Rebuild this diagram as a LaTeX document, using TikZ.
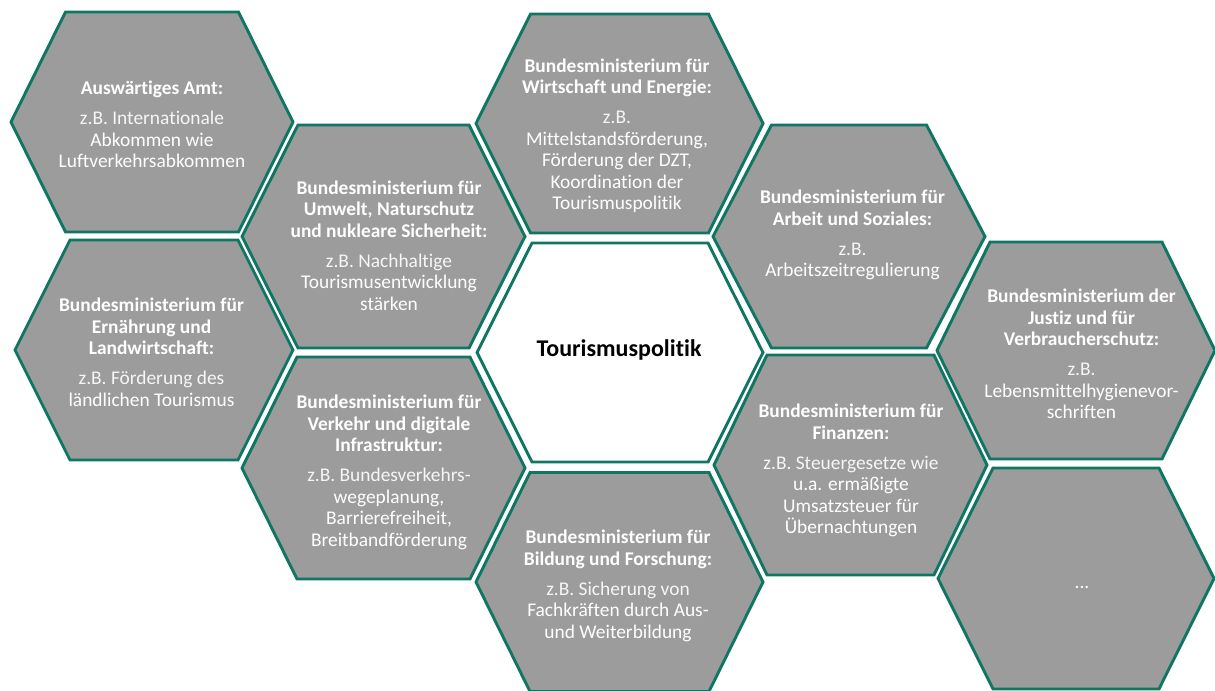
\documentclass[tikz,border=0pt]{standalone}
\usepackage{fontspec}
\setmainfont{Carlito}[Ligatures=NoCommon]
\definecolor{hexline}{RGB}{15,118,100}
\definecolor{hexfill}{RGB}{155,156,155}
\definecolor{bodytext}{RGB}{246,246,246}

\tikzset{
  cell/.style={draw=hexline, fill=hexfill, line width=2.9bp, line join=miter},
  corecell/.style={cell, fill=white},
  celltext/.style={align=center, inner sep=0pt, text=white,
    font=\fontsize{19.4bp}{21.5bp}\selectfont},
  coretext/.style={align=center, inner sep=0pt, text=black,
    font=\bfseries\fontsize{24bp}{28bp}\selectfont},
}

% hexagon with pointed left/right ends:
% #1 style, (#2,#3) centre, #4 half width, #5 half top edge, #6 half height
\newcommand\hexcell[6]{%
  \path[#1] (#2-#4,#3) -- (#2-#5,#3-#6) -- (#2+#5,#3-#6) -- (#2+#4,#3)
    -- (#2+#5,#3+#6) -- (#2-#5,#3+#6) -- cycle;}

\newcommand\gap{\\[8.5bp]\color{bodytext}\mdseries}

\begin{document}
\begin{tikzpicture}[x=1bp,y=-1bp]
\useasboundingbox (0,0) rectangle (1215,691);

% honeycomb
\hexcell{cell}{152}{122}{141}{86.5}{110}
\hexcell{cell}{154}{350}{139}{84}{110}
\hexcell{cell}{383.5}{236.5}{141.5}{85.5}{111.5}
\hexcell{cell}{383.5}{468}{141.5}{86.5}{111}
\hexcell{cell}{619.5}{123.5}{143.5}{89}{109.5}
\hexcell{corecell}{620}{352.5}{143}{88}{109.5}
\hexcell{cell}{619.5}{582}{143.5}{89.5}{109.5}
\hexcell{cell}{849}{236.5}{136}{77.5}{111.5}
\hexcell{cell}{850.5}{465}{136.5}{83.5}{110}
\hexcell{cell}{1076}{350.5}{139}{86}{108.5}
\hexcell{cell}{1076}{578.5}{138}{83}{110.5}

% texts
\node[celltext] (aa) at (152,124.5)
  {\textbf{Auswärtiges Amt:}\gap z.B. Internationale\\Abkommen wie\\Luftverkehrsabkommen};
\node[celltext] (bmel) at (151.5,352.5)
  {\textbf{Bundesministerium für}\\\textbf{Ernährung und}\\\textbf{Landwirtschaft:}\gap z.B. Förderung des\\ländlichen Tourismus};
\node[celltext] (bmu) at (389,245.5)
  {\textbf{Bundesministerium für}\\\textbf{Umwelt, Naturschutz}\\\textbf{und nukleare Sicherheit:}\gap z.B. Nachhaltige\\Tourismusentwicklung\\stärken};
\node[celltext] (bmvi) at (389,472.5)
  {\textbf{Bundesministerium für}\\\textbf{Verkehr und digitale}\\\textbf{Infrastruktur:}\gap z.B. Bundesverkehrs-\\wegeplanung,\\Barrierefreiheit,\\Breitbandförderung};
\node[celltext] (bmwi) at (617,136)
  {\textbf{Bundesministerium für}\\\textbf{Wirtschaft und Energie:}\gap z.B.\\Mittelstandsförderung,\\Förderung der DZT,\\Koordination der\\Tourismuspolitik};
\node[coretext] (core) at (619,350) {Tourismuspolitik};
\node[celltext] (bmbf) at (618,586)
  {\textbf{Bundesministerium für}\\\textbf{Bildung und Forschung:}\gap z.B. Sicherung von\\Fachkräften durch Aus-\\und Weiterbildung};
\node[celltext] (bmas) at (852.5,235)
  {\textbf{Bundesministerium für}\\\textbf{Arbeit und Soziales:}\gap z.B.\\Arbeitszeitregulierung};
\node[celltext] (bmf) at (851,470.5)
  {\textbf{Bundesministerium für}\\\textbf{Finanzen:}\gap z.B. Steuergesetze wie\\u.a. ermäßigte\\Umsatzsteuer für\\Übernachtungen};
\node[celltext] (bmjv) at (1081.5,354)
  {\textbf{Bundesministerium der}\\\textbf{Justiz und für}\\\textbf{Verbraucherschutz:}\gap z.B.\\Lebensmittelhygienevor-\\schriften};
\node[celltext, anchor=base] (more) at (1082,588) {...};
\end{tikzpicture}
\end{document}
